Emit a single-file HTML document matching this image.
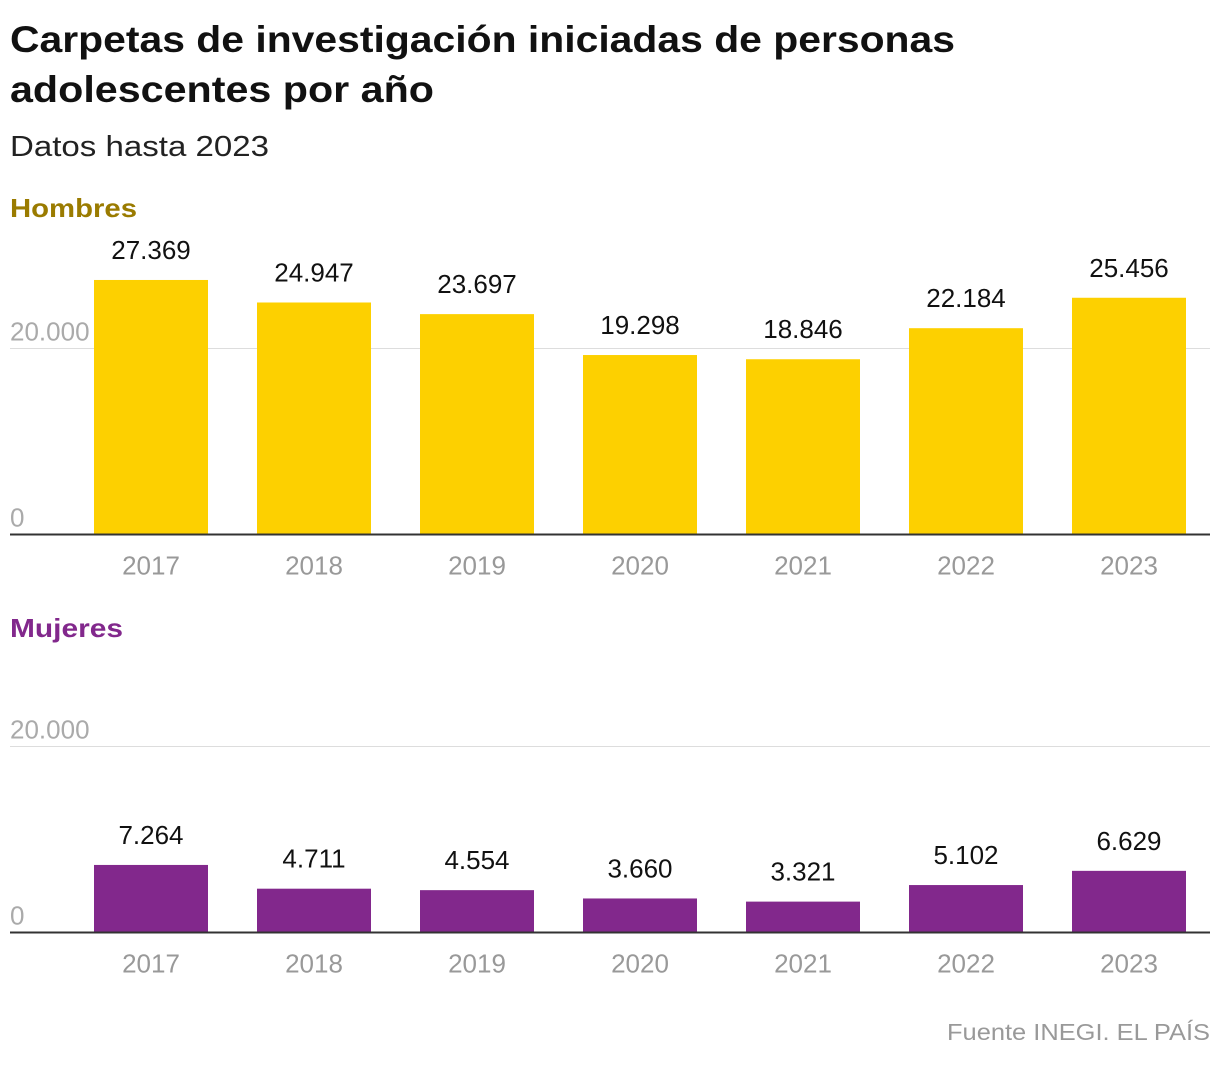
<!DOCTYPE html>
<html><head><meta charset="utf-8"><style>
body{margin:0;background:#fff;width:1220px;height:1060px;overflow:hidden;font-family:"Liberation Sans",sans-serif}
</style></head><body>
<svg width="1220" height="1060" xmlns="http://www.w3.org/2000/svg">
<text x="10" y="52" font-size="37" font-weight="bold" fill="#111" textLength="945" lengthAdjust="spacingAndGlyphs">Carpetas de investigación iniciadas de personas</text>
<text x="10" y="102" font-size="37" font-weight="bold" fill="#111" textLength="424" lengthAdjust="spacingAndGlyphs">adolescentes por año</text>
<text x="10" y="156" font-size="29" fill="#222" textLength="259" lengthAdjust="spacingAndGlyphs">Datos hasta 2023</text>
<text x="10" y="217" font-size="26" font-weight="bold" fill="#9a7b00" textLength="127" lengthAdjust="spacingAndGlyphs">Hombres</text>
<text x="10" y="637" font-size="26" font-weight="bold" fill="#82288c" textLength="113" lengthAdjust="spacingAndGlyphs">Mujeres</text>
<g id="h"></g>
<g id="m"></g>
<text x="947" y="1040" font-size="23" fill="#999" textLength="263" lengthAdjust="spacingAndGlyphs">Fuente INEGI. EL PAÍS</text>
</svg>
<script>
const years=["2017","2018","2019","2020","2021","2022","2023"];
const hombres=[27369,24947,23697,19298,18846,22184,25456];
const mujeres=[7264,4711,4554,3660,3321,5102,6629];
const ticks=[0,20000];
const NS="http://www.w3.org/2000/svg";
function mk(p,t,a){const e=document.createElementNS(NS,t);for(const k in a)e.setAttribute(k,a[k]);p.appendChild(e);return e;}
function fmt(v){return v.toString().replace(/\B(?=(\d{3})+(?!\d))/g,".");}
function draw(g,data,base,color,nm){
  const y=v=>base-v*186/20000;
  const x=i=>69.5+i*163;
  const bw=114,step=163;
  ticks.forEach(t=>{if(t>0){const l=mk(g,"line",{x1:10,x2:1210,y1:y(t),y2:y(t),stroke:"#ddd","stroke-width":1});
    
    }});
  data.forEach((v,i)=>{
    const r=mk(g,"rect",{x:x(i)+(step-bw)/2,y:y(v),width:bw,height:base-y(v),fill:color});
    
    
    const t=mk(g,"text",{x:x(i)+step/2,y:y(v)-21,"font-size":26,fill:"#111","text-anchor":"middle"});t.textContent=fmt(v);
    
    
    const yl=mk(g,"text",{x:x(i)+step/2,y:base+40,"font-size":26,fill:"#999","text-anchor":"middle"});yl.textContent=years[i];
    
    
  });
  ticks.forEach(t=>{const tl=mk(g,"text",{x:10,y:y(t)-8,"font-size":26,fill:"#aaa",stroke:"#fff","stroke-width":3,"paint-order":"stroke"});tl.textContent=fmt(t);
    
    });
  const b=mk(g,"line",{x1:10,x2:1210,y1:base,y2:base,stroke:"#333","stroke-width":2});
  
  
}
draw(document.getElementById("h"),hombres,534.5,"#fdd000","hombres");
draw(document.getElementById("m"),mujeres,932.5,"#82288c","mujeres");
</script>
</body></html>
